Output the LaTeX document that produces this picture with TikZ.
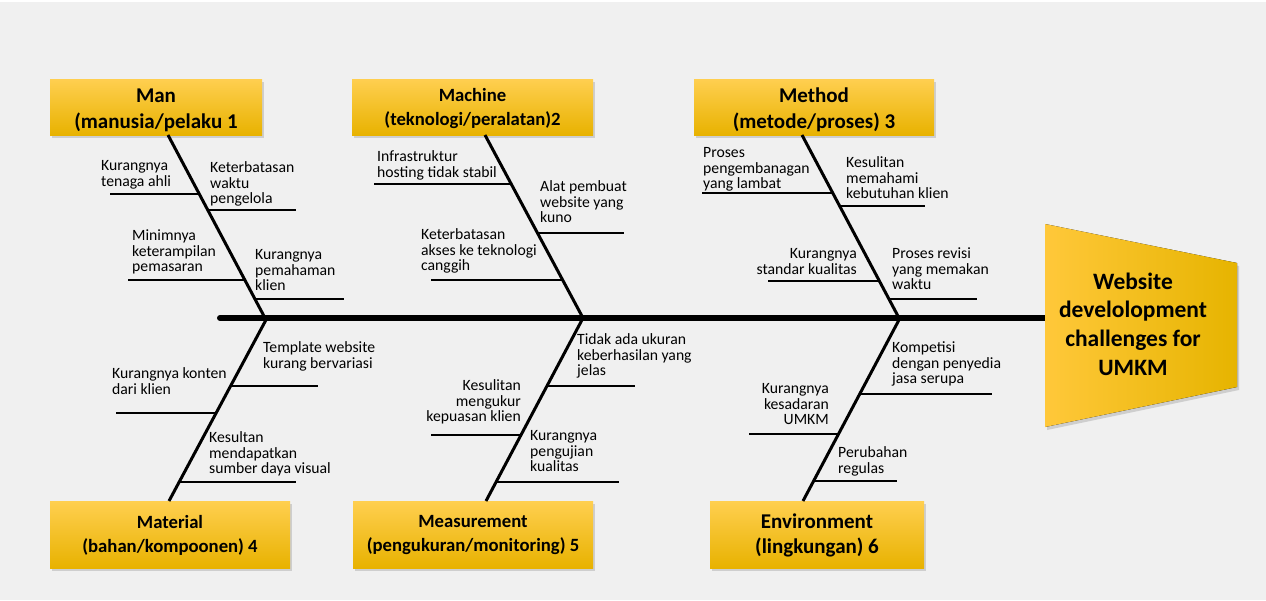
\documentclass[tikz,border=0pt]{standalone}
\usepackage{fontspec}
\setmainfont{Carlito}
\usetikzlibrary{shadows}
\definecolor{bgc}{HTML}{F0F0F0}
\definecolor{boxtop}{HTML}{FFCF50}
\definecolor{boxmid}{HTML}{FFC000}
\definecolor{boxbot}{HTML}{E8B200}
\definecolor{headl}{HTML}{FFC83A}
\definecolor{headr}{HTML}{E6B400}
\begin{document}
\begin{tikzpicture}[x=1pt,y=-1pt,
  cat/.style={draw=none, top color=boxtop, middle color=boxmid, bottom color=boxbot,
    drop shadow={opacity=0.3,shadow xshift=2pt,shadow yshift=-3pt}, inner sep=0pt},
  cattxt/.style={align=center, inner sep=0pt},
  bigf/.style={font=\fontsize{21}{26}\selectfont\bfseries},
  smallf/.style={font=\fontsize{18.7}{24}\selectfont\bfseries},
  lbl/.style={anchor=north west, align=left, inner sep=0pt, font=\fontsize{15.7}{15.8}\selectfont},
  lblr/.style={anchor=north east, align=right, inner sep=0pt, font=\fontsize{15.7}{15.8}\selectfont},
  spine/.style={line width=6pt, line cap=round},
  bone/.style={line width=3pt},
  twig/.style={line width=1.2pt},
]
% background
\fill[bgc] (0,0) rectangle (1266,600);
\fill[white] (0,0) rectangle (1266,2);
\useasboundingbox (0,0) rectangle (1266,600);

% spine
\coordinate (tail) at (220,318);
\coordinate (headw) at (1047,318);
\draw[spine] (tail) -- (headw);

% head
\fill[left color=headl, right color=headr, drop shadow={opacity=0.3,shadow xshift=2pt,shadow yshift=-3pt}]
  (1045,224) -- (1237,263) -- (1237,387) -- (1045,427) -- cycle;
\node[align=center, inner sep=0pt, font=\fontsize{23.5}{28.7}\selectfont\bfseries] (head) at (1133,324)
  {Website\\develolopment\\challenges for\\UMKM};

% category boxes
\node[cat, minimum width=212pt, minimum height=56pt] (man) at (156,107) {};
\node[cat, minimum width=241pt, minimum height=56pt] (machine) at (472.5,107) {};
\node[cat, minimum width=240pt, minimum height=56pt] (method) at (814,107) {};
\node[cat, minimum width=240pt, minimum height=67pt] (material) at (170,534.5) {};
\node[cat, minimum width=240pt, minimum height=67pt] (measure) at (473,534.5) {};
\node[cat, minimum width=214pt, minimum height=67pt] (environ) at (817,534.5) {};
\node[cattxt, bigf] (mantxt) at ([yshift=-3pt]man.center) {Man\\(manusia/pelaku 1};
\node[cattxt, smallf] (machinetxt) at ([yshift=-2pt]machine.center) {Machine\\(teknologi/peralatan)2};
\node[cattxt, bigf] (methodtxt) at ([yshift=-3pt]method.center) {Method\\(metode/proses) 3};
\node[cattxt, smallf] (materialtxt) at ([yshift=-1pt]material.center) {Material\\(bahan/kompoonen) 4};
\node[cattxt, smallf] (measuretxt) at ([yshift=-1pt]measure.center) {Measurement\\(pengukuran/monitoring) 5};
\node[cattxt, font=\fontsize{21}{25}\selectfont\bfseries] (environtxt) at ([yshift=-1pt]environ.center) {Environment\\(lingkungan) 6};

% bones
\coordinate (b1t) at (168,135); \coordinate (b1s) at (265,318);
\coordinate (b2t) at (485,135); \coordinate (b2s) at (583,318);
\coordinate (b3t) at (802,135); \coordinate (b3s) at (899,318);
\coordinate (b4b) at (169,501); \coordinate (b4s) at (267,318);
\coordinate (b5b) at (486,501); \coordinate (b5s) at (583,318);
\coordinate (b6b) at (803,501); \coordinate (b6s) at (900,318);
\draw[bone] (b1t) -- (b1s);
\draw[bone] (b2t) -- (b2s);
\draw[bone] (b3t) -- (b3s);
\draw[bone] (b4s) -- (b4b);
\draw[bone] (b5s) -- (b5b);
\draw[bone] (b6s) -- (b6b);

% twigs
\coordinate (t1a) at (110,194); \coordinate (t1b) at (199,194);
\coordinate (t2a) at (208,210); \coordinate (t2b) at (296,210);
\coordinate (t3a) at (128,280); \coordinate (t3b) at (245,280);
\coordinate (t4a) at (255,299); \coordinate (t4b) at (344,299);
\coordinate (t5a) at (374,184); \coordinate (t5b) at (511,184);
\coordinate (t6a) at (538,233); \coordinate (t6b) at (624,233);
\coordinate (t7a) at (431,280); \coordinate (t7b) at (563,280);
\coordinate (t8a) at (702,193); \coordinate (t8b) at (833,193);
\coordinate (t9a) at (840,206); \coordinate (t9b) at (925,206);
\coordinate (t10a) at (768,281); \coordinate (t10b) at (879,281);
\coordinate (t11a) at (889,299); \coordinate (t11b) at (977,299);
\coordinate (t12a) at (231,386); \coordinate (t12b) at (318,386);
\coordinate (t13a) at (116,413); \coordinate (t13b) at (216,413);
\coordinate (t14a) at (179,482); \coordinate (t14b) at (296,482);
\coordinate (t15a) at (547,386); \coordinate (t15b) at (635,386);
\coordinate (t16a) at (431,435); \coordinate (t16b) at (521,435);
\coordinate (t17a) at (496,482); \coordinate (t17b) at (619,482);
\coordinate (t18a) at (860,394); \coordinate (t18b) at (992,394);
\coordinate (t19a) at (749,434); \coordinate (t19b) at (839,434);
\coordinate (t20a) at (813,481); \coordinate (t20b) at (897,481);
\foreach \i in {1,...,20} { \draw[twig] (t\i a) -- (t\i b); }

% labels
\node[lbl] (l1) at (101,159) {\strut Kurangnya\\\strut tenaga ahli};
\node[lbl] (l2) at (210,161) {\strut Keterbatasan\\\strut waktu\\\strut pengelola};
\node[lbl] (l3) at (132,229) {\strut Minimnya\\\strut keterampilan\\\strut pemasaran};
\node[lbl] (l4) at (255,248) {\strut Kurangnya\\\strut pemahaman\\\strut klien};
\node[lbl] (l5) at (377,150) {\strut Infrastruktur\\\strut hosting tidak stabil};
\node[lbl] (l6) at (540,180) {\strut Alat pembuat\\\strut website yang\\\strut kuno};
\node[lbl] (l7) at (421,228) {\strut Keterbatasan\\\strut akses ke teknologi\\\strut canggih};
\node[lbl] (l8) at (703,146) {\strut Proses\\\strut pengembanagan\\\strut yang lambat};
\node[lbl] (l9) at (846,156) {\strut Kesulitan\\\strut memahami\\\strut kebutuhan klien};
\node[lblr] (l10) at (857,247) {\strut Kurangnya\\\strut standar kualitas};
\node[lbl] (l11) at (892,247) {\strut Proses revisi\\\strut yang memakan\\\strut waktu};
\node[lbl] (l12) at (263,341) {\strut Template website\\\strut kurang bervariasi};
\node[lbl] (l13) at (112,367) {\strut Kurangnya konten\\\strut dari klien};
\node[lbl] (l14) at (209,431) {\strut Kesultan\\\strut mendapatkan\\\strut sumber daya visual};
\node[lbl] (l15) at (577,333) {\strut Tidak ada ukuran\\\strut keberhasilan yang\\\strut jelas};
\node[lblr] (l16) at (521,379) {\strut Kesulitan\\\strut mengukur\\\strut kepuasan klien};
\node[lbl] (l17) at (530,429) {\strut Kurangnya\\\strut pengujian\\\strut kualitas};
\node[lbl] (l18) at (892,341) {\strut Kompetisi\\\strut dengan penyedia\\\strut jasa serupa};
\node[lblr] (l19) at (829,382) {\strut Kurangnya\\\strut kesadaran\\\strut UMKM};
\node[lbl] (l20) at (838,446) {\strut Perubahan\\\strut regulas};
\end{tikzpicture}
\end{document}
